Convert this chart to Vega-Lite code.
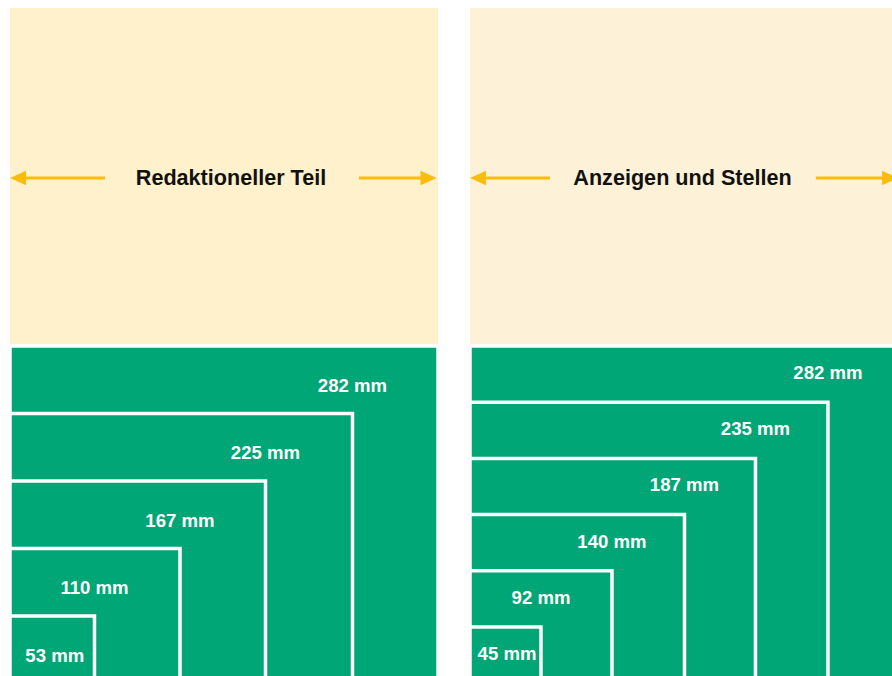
{
  "$schema": "https://vega.github.io/schema/vega-lite/v6.json",
  "padding": {"left": 10, "top": 8, "right": 0, "bottom": 0},
  "background": "white",
  "spacing": 32,
  "config": {"view": {"stroke": null}, "axis": {"disable": true}, "font": "Liberation Sans"},
  "datasets": {
    "sizesL": [{"mm": 282}, {"mm": 225}, {"mm": 167}, {"mm": 110}, {"mm": 53}],
    "sizesR": [{"mm": 282}, {"mm": 235}, {"mm": 187}, {"mm": 140}, {"mm": 92}, {"mm": 45}],
    "headL": [{"title": "Redaktioneller Teil", "tipL": -3.3, "lineL": 60, "center": 144, "lineR": 229.3, "tipR": 281}],
    "headR": [{"title": "Anzeigen und Stellen", "tipL": -2, "lineL": 51, "center": 138.7, "lineR": 227, "tipR": 281.4}]
  },
  "hconcat": [
    {
      "spacing": 2,
      "vconcat": [
        {
          "width": 428, "height": 336,
          "view": {"fill": "#fef1cb", "stroke": null},
          "data": {"name": "headL"},
          "transform": [
            {"calculate": "datum.tipL + 5", "as": "shaftL"},
            {"calculate": "datum.tipR - 5", "as": "shaftR"}
          ],
          "layer": [
            {"mark": {"type": "rule", "color": "#fbbd0d", "strokeWidth": 3, "yOffset": 2, "clip": true},
             "encoding": {"x": {"field": "shaftL", "type": "quantitative", "scale": {"domain": [-3.333, 282], "nice": false}, "axis": null}, "x2": {"field": "lineL"}}},
            {"mark": {"type": "rule", "color": "#fbbd0d", "strokeWidth": 3, "yOffset": 2, "clip": true},
             "encoding": {"x": {"field": "lineR", "type": "quantitative", "scale": {"domain": [-3.333, 282], "nice": false}, "axis": null}, "x2": {"field": "shaftR"}}},
            {"mark": {"type": "point", "shape": "M0,0L2,-0.9L2,0.9Z", "size": 256, "filled": true, "opacity": 1, "color": "#fbbd0d", "strokeWidth": 0, "yOffset": 2, "clip": true},
             "encoding": {"x": {"field": "tipL", "type": "quantitative", "scale": {"domain": [-3.333, 282], "nice": false}, "axis": null}}},
            {"mark": {"type": "point", "shape": "M0,0L-2,-0.9L-2,0.9Z", "size": 256, "filled": true, "opacity": 1, "color": "#fbbd0d", "strokeWidth": 0, "yOffset": 2, "clip": true},
             "encoding": {"x": {"field": "tipR", "type": "quantitative", "scale": {"domain": [-3.333, 282], "nice": false}, "axis": null}}},
            {"mark": {"type": "text", "fontSize": 21.6, "fontWeight": "bold", "color": "#111111", "dy": 3},
             "encoding": {"x": {"field": "center", "type": "quantitative", "scale": {"domain": [-3.333, 282], "nice": false}, "axis": null}, "text": {"field": "title", "type": "nominal"}}}
          ]
        },
        {
          "width": 428, "height": 330,
          "view": {"fill": "#00a676", "stroke": null},
          "data": {"name": "sizesL"},
          "transform": [
            {"window": [{"op": "row_number", "as": "rank"}, {"op": "lead", "field": "mm", "as": "inner"}], "sort": [{"field": "mm", "order": "descending"}]},
            {"calculate": "datum.rank - 1", "as": "level"},
            {"calculate": "datum.level + 0.5", "as": "mid"},
            {"calculate": "datum.inner != null ? datum.inner : datum.mm / 2", "as": "labelAt"},
            {"calculate": "datum.mm + ' mm'", "as": "label"}
          ],
          "layer": [
            {"mark": {"type": "rect", "fill": "#00a676", "stroke": "white", "strokeWidth": 3.5, "clip": true},
             "encoding": {
               "x": {"field": "mm", "type": "quantitative", "scale": {"domain": [-3.333, 282], "nice": false}, "axis": null},
               "x2": {"datum": -3.333},
               "y": {"field": "level", "type": "quantitative", "scale": {"domain": [0, 4.889], "reverse": true, "nice": false}, "axis": null},
               "y2": {"datum": 8}}},
            {"mark": {"type": "text", "color": "white", "fontSize": 18.6, "fontWeight": "bold", "dy": 6},
             "encoding": {
               "x": {"field": "labelAt", "type": "quantitative", "scale": {"domain": [-3.333, 282], "nice": false}, "axis": null},
               "y": {"field": "mid", "type": "quantitative", "scale": {"domain": [0, 4.889], "reverse": true, "nice": false}, "axis": null},
               "text": {"field": "label", "type": "nominal"}}}
          ]
        }
      ]
    },
    {
      "spacing": 2,
      "vconcat": [
        {
          "width": 422, "height": 336,
          "view": {"fill": "#fdf1d8", "stroke": null},
          "data": {"name": "headR"},
          "transform": [
            {"calculate": "datum.tipL + 5", "as": "shaftL"},
            {"calculate": "datum.tipR - 5", "as": "shaftR"}
          ],
          "layer": [
            {"mark": {"type": "rule", "color": "#fbbd0d", "strokeWidth": 3, "yOffset": 2, "clip": true},
             "encoding": {"x": {"field": "shaftL", "type": "quantitative", "scale": {"domain": [-2, 277.4], "nice": false}, "axis": null}, "x2": {"field": "lineL"}}},
            {"mark": {"type": "rule", "color": "#fbbd0d", "strokeWidth": 3, "yOffset": 2, "clip": true},
             "encoding": {"x": {"field": "lineR", "type": "quantitative", "scale": {"domain": [-2, 277.4], "nice": false}, "axis": null}, "x2": {"field": "shaftR"}}},
            {"mark": {"type": "point", "shape": "M0,0L2,-0.9L2,0.9Z", "size": 256, "filled": true, "opacity": 1, "color": "#fbbd0d", "strokeWidth": 0, "yOffset": 2, "clip": true},
             "encoding": {"x": {"field": "tipL", "type": "quantitative", "scale": {"domain": [-2, 277.4], "nice": false}, "axis": null}}},
            {"mark": {"type": "point", "shape": "M0,0L-2,-0.9L-2,0.9Z", "size": 256, "filled": true, "opacity": 1, "color": "#fbbd0d", "strokeWidth": 0, "yOffset": 2, "clip": true},
             "encoding": {"x": {"field": "tipR", "type": "quantitative", "scale": {"domain": [-2, 277.4], "nice": false}, "axis": null}}},
            {"mark": {"type": "text", "fontSize": 21.6, "fontWeight": "bold", "color": "#111111", "dy": 3},
             "encoding": {"x": {"field": "center", "type": "quantitative", "scale": {"domain": [-2, 277.4], "nice": false}, "axis": null}, "text": {"field": "title", "type": "nominal"}}}
          ]
        },
        {
          "width": 422, "height": 330,
          "view": {"fill": "#00a676", "stroke": null},
          "data": {"name": "sizesR"},
          "transform": [
            {"window": [{"op": "row_number", "as": "rank"}, {"op": "lead", "field": "mm", "as": "inner"}], "sort": [{"field": "mm", "order": "descending"}]},
            {"calculate": "datum.rank - 1", "as": "level"},
            {"calculate": "datum.level + 0.5", "as": "mid"},
            {"calculate": "datum.inner != null ? datum.inner : datum.mm / 2", "as": "labelAt"},
            {"calculate": "datum.mm + ' mm'", "as": "label"}
          ],
          "layer": [
            {"mark": {"type": "rect", "fill": "#00a676", "stroke": "white", "strokeWidth": 3.5, "clip": true},
             "encoding": {
               "x": {"field": "mm", "type": "quantitative", "scale": {"domain": [-2, 277.4], "nice": false}, "axis": null},
               "x2": {"datum": -2},
               "y": {"field": "level", "type": "quantitative", "scale": {"domain": [0, 5.872], "reverse": true, "nice": false}, "axis": null},
               "y2": {"datum": 8}}},
            {"mark": {"type": "text", "color": "white", "fontSize": 18.6, "fontWeight": "bold", "dy": -1},
             "encoding": {
               "x": {"field": "labelAt", "type": "quantitative", "scale": {"domain": [-2, 277.4], "nice": false}, "axis": null},
               "y": {"field": "mid", "type": "quantitative", "scale": {"domain": [0, 5.872], "reverse": true, "nice": false}, "axis": null},
               "text": {"field": "label", "type": "nominal"}}}
          ]
        }
      ]
    }
  ]
}
